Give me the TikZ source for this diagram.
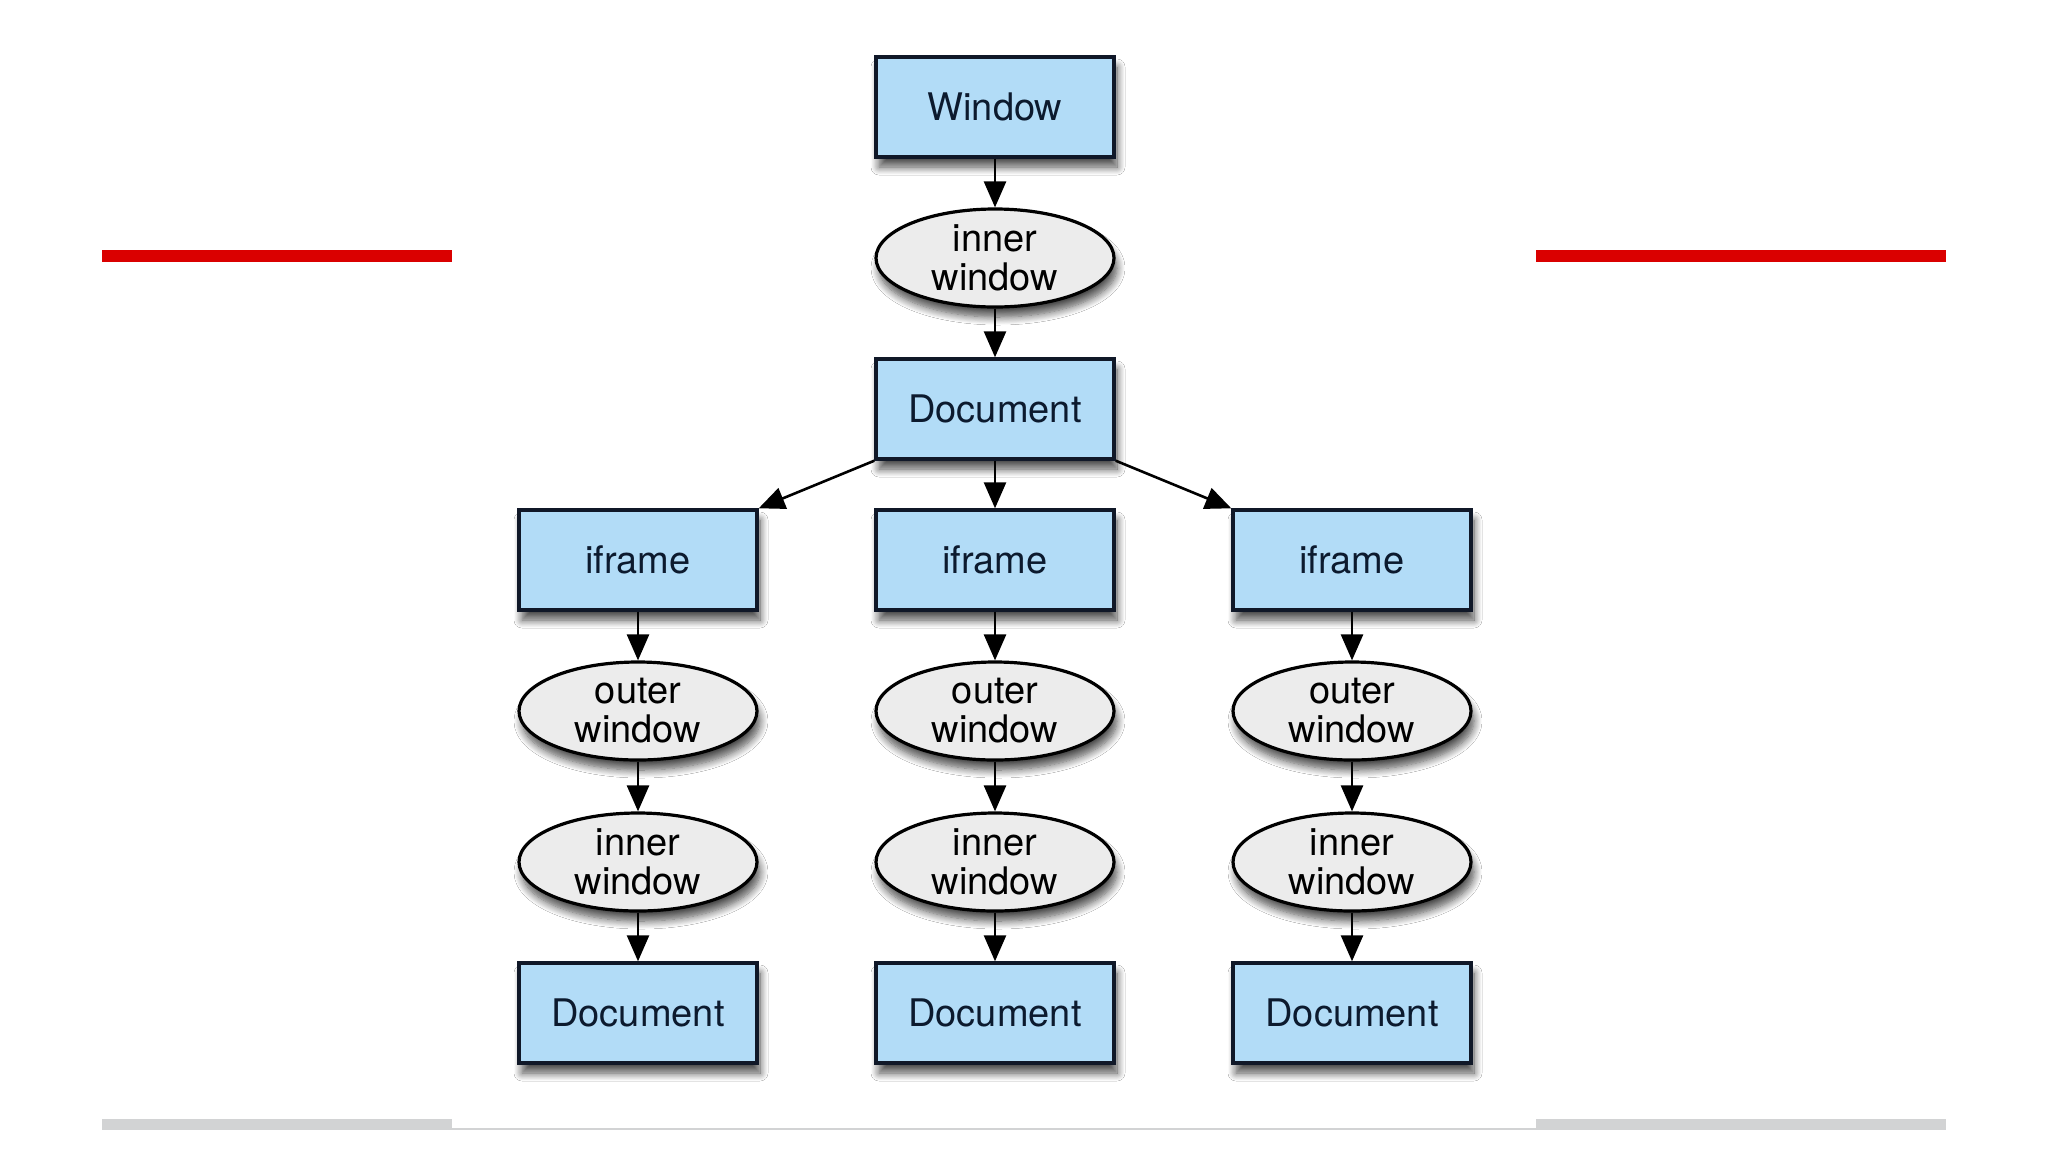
\documentclass[tikz,border=0pt]{standalone}
\usepackage{fontspec}
\setmainfont{TeX Gyre Heros}
\usetikzlibrary{arrows.meta,shapes.geometric,shadows.blur}
\definecolor{boxblue}{HTML}{B2DCF7}
\definecolor{ellgray}{HTML}{ECECEC}
\definecolor{edgenavy}{HTML}{101828}
\definecolor{txtnavy}{HTML}{0C1A2E}
\definecolor{redbar}{HTML}{DA0000}
\definecolor{graybar}{HTML}{D2D3D4}
\tikzset{
  shade/.style={blur shadow={shadow xshift=1.5pt,shadow yshift=-5pt,shadow blur steps=10,shadow blur radius=4pt,shadow opacity=70}},
  bluebox/.style={rectangle,draw=edgenavy,line width=1.7pt,fill=boxblue,minimum width=119pt,minimum height=50pt,inner sep=0pt,text=txtnavy,font=\fontsize{19}{19}\selectfont,shade},
  grayell/.style={ellipse,draw=black,line width=1.6pt,fill=ellgray,minimum width=119pt,minimum height=49pt,inner sep=0pt,align=center,font=\fontsize{19}{19.5}\selectfont,shade},
  conn/.style={line width=1.3pt,-{Triangle[length=13pt,width=11pt]}}
}
\begin{document}
\begin{tikzpicture}[x=0.5pt,y=-0.5pt]
\useasboundingbox[fill=white] (0,0) rectangle (2048,1152);
% decorative bars
\fill[redbar] (102,250) rectangle (452,262);
\fill[redbar] (1536,250) rectangle (1946,262);
\fill[graybar] (102,1119) rectangle (452,1130);
\fill[graybar] (1536,1119) rectangle (1946,1130);
\draw[graybar,line width=1pt] (452,1129) -- (1536,1129);
% nodes
\node[bluebox] (win) at (995,107) {Window};
\node[grayell] (iw0) at (995,258) {inner\\window};
\node[bluebox] (doc0) at (995,409) {Document};
\foreach \n/\x in {a/638,b/995,c/1352}{
  \node[bluebox] (if\n) at (\x,560) {iframe};
  \node[grayell] (ow\n) at (\x,711) {outer\\window};
  \node[grayell] (iw\n) at (\x,862) {inner\\window};
  \node[bluebox] (doc\n) at (\x,1013) {Document};
}
% connectors
\draw[conn] (win) -- (iw0);
\draw[conn] (iw0) -- (doc0);
\draw[conn] (doc0.south west) -- (ifa.north east);
\draw[conn] (doc0) -- (ifb);
\draw[conn] (doc0.south east) -- (ifc.north west);
\foreach \n in {a,b,c}{
  \draw[conn] (if\n) -- (ow\n);
  \draw[conn] (ow\n) -- (iw\n);
  \draw[conn] (iw\n) -- (doc\n);
}
\end{tikzpicture}
\end{document}
